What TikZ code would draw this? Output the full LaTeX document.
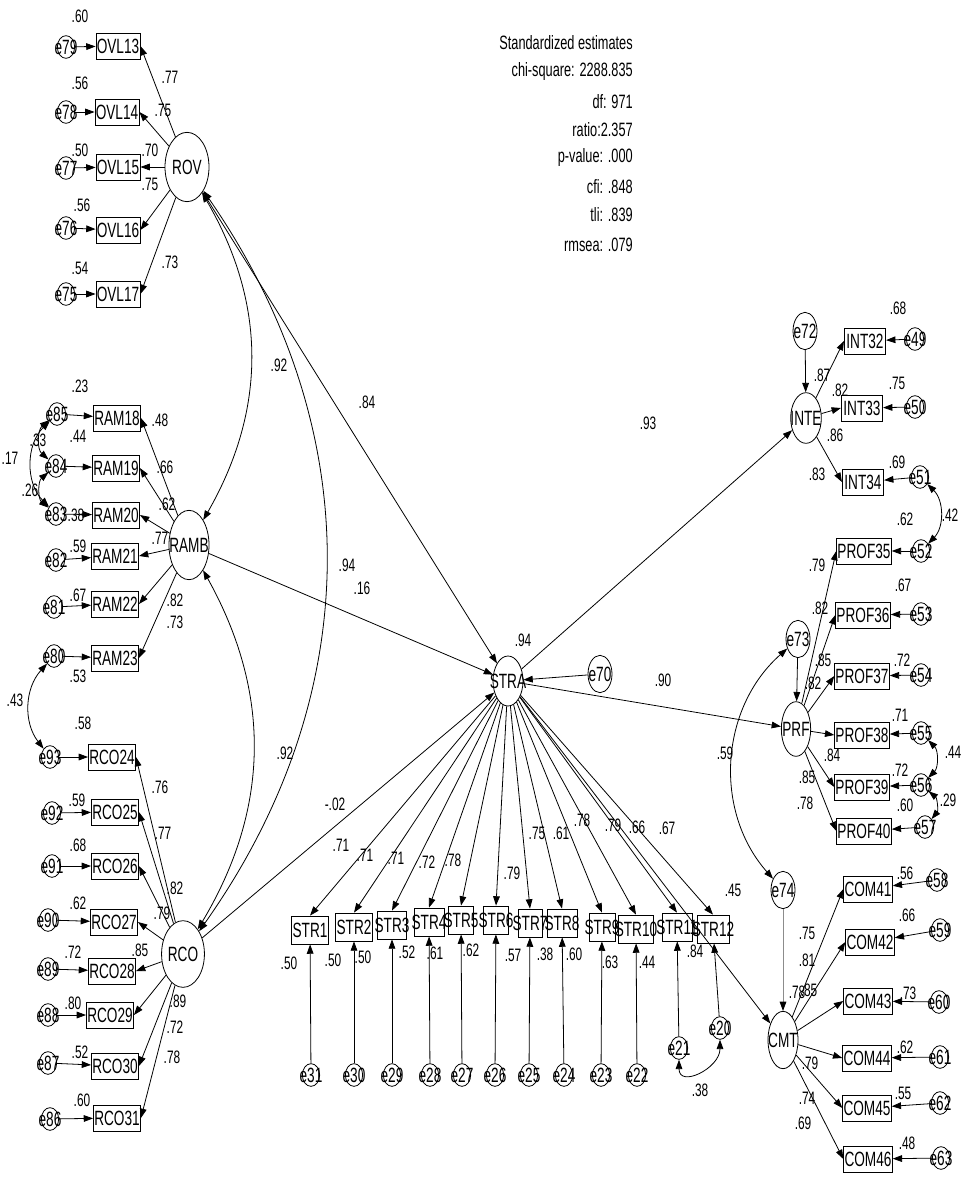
\documentclass[tikz,border=0pt]{standalone}
\usepackage{fontspec}
\setmainfont[FakeStretch=0.66]{Liberation Sans}
\usetikzlibrary{shapes.geometric, arrows.meta}
\newcommand{\ctxt}[1]{\makebox[0pt]{#1}}
\tikzset{
	latent/.style={ellipse, draw=black, line width=0.6pt, inner sep=0pt, font=\fontsize{15.5}{15.5}\selectfont},
	obsbox/.style={rectangle, draw=black, line width=0.6pt, inner xsep=0.6pt, inner ysep=0pt,
		minimum width=31pt, minimum height=19.5pt, font=\fontsize{15.5}{15.5}\selectfont},
	strbox/.style={obsbox, minimum width=#1, minimum height=21pt},
	errnode/.style={ellipse, draw=black, line width=0.6pt, inner sep=0pt,
		minimum width=13pt, minimum height=17pt, font=\fontsize{15.5}{15.5}\selectfont},
	bigerr/.style={errnode, minimum width=18pt, minimum height=28pt},
	est/.style={inner sep=0pt, font=\fontsize{13.5}{13.5}\selectfont},
	fitline/.style={inner sep=0pt, anchor=east, font=\fontsize{14.5}{14.5}\selectfont},
	arrow/.style={-{Triangle[length=7pt,width=5pt]}, line width=0.6pt},
	covarrow/.style={{Triangle[length=7pt,width=5pt]}-{Triangle[length=7pt,width=5pt]}, line width=0.6pt},
}
\begin{document}
\begin{tikzpicture}[x=0.75pt,y=0.75pt]
\useasboundingbox (0,0) rectangle (962,-1177);
% fit summary
\node[fitline](fhead) at (633,-43){Standardized estimates};
\node[fitline](fchi) at (633,-72){chi-square: 2288.835};
\node[fitline](fdf) at (633,-102){df: 971};
\node[fitline](fratio) at (633,-130){ratio:2.357};
\node[fitline](fpval) at (633,-158){p-value: .000};
\node[fitline](fcfi) at (633,-187){cfi: .848};
\node[fitline](ftli) at (633,-215){tli: .839};
\node[fitline](frmsea) at (633,-245){rmsea: .079};
% ROV block
\node[latent, minimum width=33pt, minimum height=52pt](rov) at (187,-167){ROV};
\node[obsbox](ovl13) at (118,-46){OVL13};\node[errnode](e79) at (66,-47){\ctxt{e79}};
\node[obsbox](ovl14) at (117,-112){OVL14};\node[errnode](e78) at (66,-112){\ctxt{e78}};
\node[obsbox](ovl15) at (118,-167){OVL15};\node[errnode](e77) at (66,-168){\ctxt{e77}};
\node[obsbox](ovl16) at (118,-230){OVL16};\node[errnode](e76) at (66,-228){\ctxt{e76}};
\node[obsbox](ovl17) at (118,-294){OVL17};\node[errnode](e75) at (66,-294){\ctxt{e75}};
\draw[arrow](e79)--(ovl13);\draw[arrow](e78)--(ovl14);\draw[arrow](e77)--(ovl15);
\draw[arrow](e76)--(ovl16);\draw[arrow](e75)--(ovl17);
\draw[arrow](rov)--(ovl13.east);\draw[arrow](rov)--(ovl14.east);\draw[arrow](rov)--(ovl15.east);
\draw[arrow](rov)--(ovl16.east);\draw[arrow](rov)--(ovl17.east);
\node[est](r79) at (80,-16){.60};\node[est](r78) at (80,-83){.56};\node[est](r77) at (80,-150){.50};
\node[est](r76) at (82,-205){.56};\node[est](r75) at (80,-268){.54};
\node[est](lovl13) at (170,-77){.77};\node[est](lovl14) at (163,-110){.75};\node[est](lovl15) at (150,-150){.70};
\node[est](lovl16) at (150,-184){.75};\node[est](lovl17) at (170,-262){.73};
% RAMB block
\node[latent, minimum width=30pt, minimum height=52pt](ramb) at (189,-545){\ctxt{RAMB}};
\node[obsbox](ram18) at (117,-418){RAM18};\node[errnode](e85) at (57,-414){\ctxt{e85}};
\node[obsbox](ram19) at (116,-468){RAM19};\node[errnode](e84) at (56,-466){\ctxt{e84}};
\node[obsbox](ram20) at (116,-515){RAM20};\node[errnode](e83) at (56,-514){\ctxt{e83}};
\node[obsbox](ram21) at (115,-556){RAM21};\node[errnode](e82) at (56,-560){\ctxt{e82}};
\node[obsbox](ram22) at (115,-604){RAM22};\node[errnode](e81) at (54,-607){\ctxt{e81}};
\node[obsbox](ram23) at (115,-658){RAM23};\node[errnode](e80) at (54,-656){\ctxt{e80}};
\draw[arrow](e85)--(ram18);\draw[arrow](e84)--(ram19);\draw[arrow](e83)--(ram20);
\draw[arrow](e82)--(ram21);\draw[arrow](e81)--(ram22);\draw[arrow](e80)--(ram23);
\draw[arrow](ramb)--(ram18.east);\draw[arrow](ramb)--(ram19.east);\draw[arrow](ramb)--(ram20.east);
\draw[arrow](ramb)--(ram21.east);\draw[arrow](ramb)--(ram22.east);\draw[arrow](ramb)--(ram23.east);
\node[est](r85) at (80,-386){.23};\node[est](r84) at (78,-436){.44};\node[est](r83) at (76,-515){.38};
\node[est](r82) at (78,-546){.59};\node[est](r81) at (78,-595){.67};\node[est](r80) at (78,-676){.53};
\node[est](lram18) at (160,-420){.48};\node[est](lram19) at (165,-467){.66};\node[est](lram20) at (167,-504){.62};
\node[est](lram21) at (160,-538){.77};\node[est](lram22) at (175,-600){.82};\node[est](lram23) at (175,-622){.73};
\draw[covarrow](e85) to[bend right=50] (e84);\draw[covarrow](e84) to[bend right=50] (e83);
\draw[covarrow](e85) to[bend right=45] (e83);
\node[est](c8584) at (38,-440){.33};\node[est](c8483) at (30,-490){.26};\node[est](c8583) at (10,-458){.17};
% RCO block
\node[latent, minimum width=31.5pt, minimum height=50pt](rco) at (183,-954){RCO};
\node[obsbox](rco24) at (112,-757){RCO24};\node[errnode](e93) at (50,-757){\ctxt{e93}};
\node[obsbox](rco25) at (115,-812){RCO25};\node[errnode](e92) at (52,-813){\ctxt{e92}};
\node[obsbox](rco26) at (115,-866){RCO26};\node[errnode](e91) at (52,-866){\ctxt{e91}};
\node[obsbox](rco27) at (114,-922){RCO27};\node[errnode](e90) at (48,-920){\ctxt{e90}};
\node[obsbox](rco28) at (112,-971){RCO28};\node[errnode](e89) at (48,-969){\ctxt{e89}};
\node[obsbox](rco29) at (110,-1015){RCO29};\node[errnode](e88) at (48,-1015){\ctxt{e88}};
\node[obsbox](rco30) at (115,-1066){RCO30};\node[errnode](e87) at (48,-1063){\ctxt{e87}};
\node[obsbox](rco31) at (117,-1118){RCO31};\node[errnode](e86) at (50,-1119){\ctxt{e86}};
\draw[arrow](e93)--(rco24);\draw[arrow](e92)--(rco25);\draw[arrow](e91)--(rco26);\draw[arrow](e90)--(rco27);
\draw[arrow](e89)--(rco28);\draw[arrow](e88)--(rco29);\draw[arrow](e87)--(rco30);\draw[arrow](e86)--(rco31);
\draw[arrow](rco)--(rco24.east);\draw[arrow](rco)--(rco25.east);\draw[arrow](rco)--(rco26.east);
\draw[arrow](rco)--(rco27.east);\draw[arrow](rco)--(rco28.east);\draw[arrow](rco)--(rco29.east);
\draw[arrow](rco)--(rco30.east);\draw[arrow](rco)--(rco31.east);
\node[est](r93) at (83,-723){.58};\node[est](r92) at (77,-800){.59};\node[est](r91) at (78,-845){.68};
\node[est](r90) at (78,-903){.62};\node[est](r89) at (73,-952){.72};\node[est](r88) at (73,-1003){.80};
\node[est](r87) at (80,-1052){.52};\node[est](r86) at (82,-1100){.60};
\node[est](lrco24) at (160,-787){.76};\node[est](lrco25) at (163,-833){.77};\node[est](lrco26) at (175,-888){.82};
\node[est](lrco27) at (162,-913){.79};\node[est](lrco28) at (140,-950){.85};\node[est](lrco29) at (178,-1001){.89};
\node[est](lrco30) at (175,-1027){.72};\node[est](lrco31) at (172,-1057){.78};
\draw[covarrow](e80) to[bend right=40] (e93);\node[est](c8093) at (15,-700){.43};
% factor covariances
\draw[covarrow](rov) to[bend left=30] (ramb);\draw[covarrow](rov) to[bend left=35] (rco);
\draw[covarrow](ramb) to[bend left=30] (rco);
\node[est](crovramb) at (279,-365){.92};\node[est](crovrco) at (347,-565){.94};\node[est](crambrco) at (285,-753){.92};
% STRA and its items
\node[latent, minimum width=22.5pt, minimum height=37.5pt](stra) at (508,-681){\ctxt{STRA}};
\node[bigerr](e70) at (600,-674){\ctxt{e70}};\draw[arrow](e70)--(stra);
\node[est](rstra) at (523,-640){.94};
\draw[arrow](rov)--(stra);\draw[arrow](ramb)--(stra);\draw[arrow](rco)--(stra);
\node[est](lrov) at (367,-402){.84};\node[est](lramb) at (362,-588){.16};\node[est](lrco) at (335,-804){-.02};
\node[strbox=27.75pt](str1) at (310,-930){\ctxt{STR1}};\node[strbox=27.75pt](str2) at (354,-927){\ctxt{STR2}};
\node[strbox=22pt](str3) at (392,-925){\ctxt{STR3}};\node[strbox=22.5pt](str4) at (429,-922){\ctxt{STR4}};
\node[strbox=19pt](str5) at (461,-920){\ctxt{STR5}};\node[strbox=19pt](str6) at (496,-920){\ctxt{STR6}};
\node[strbox=18pt](str7) at (530,-923){\ctxt{STR7}};\node[strbox=22.5pt](str8) at (562,-923){\ctxt{STR8}};
\node[strbox=19.5pt](str9) at (602,-927){\ctxt{STR9}};\node[strbox=26pt](str10) at (636,-929){\ctxt{STR10}};
\node[strbox=22.5pt](str11) at (677,-927){\ctxt{STR11}};\node[strbox=24pt](str12) at (713,-929){\ctxt{STR12}};
\draw[arrow](stra)--(str1.north);\draw[arrow](stra)--(str2.north);\draw[arrow](stra)--(str3.north);
\draw[arrow](stra)--(str4.north);\draw[arrow](stra)--(str5.north);\draw[arrow](stra)--(str6.north);
\draw[arrow](stra)--(str7.north);\draw[arrow](stra)--(str8.north);\draw[arrow](stra)--(str9.north);
\draw[arrow](stra)--(str10.north);\draw[arrow](stra)--(str11.north);\draw[arrow](stra)--(str12.north);
\node[errnode](e31) at (311,-1075){\ctxt{e31}};\node[errnode](e30) at (354,-1075){\ctxt{e30}};
\node[errnode](e29) at (392,-1075){\ctxt{e29}};\node[errnode](e28) at (430,-1075){\ctxt{e28}};
\node[errnode](e27) at (462,-1075){\ctxt{e27}};\node[errnode](e26) at (495,-1075){\ctxt{e26}};
\node[errnode](e25) at (529,-1075){\ctxt{e25}};\node[errnode](e24) at (564,-1075){\ctxt{e24}};
\node[errnode](e23) at (601,-1075){\ctxt{e23}};\node[errnode](e22) at (637,-1075){\ctxt{e22}};
\node[errnode](e21) at (679,-1048){\ctxt{e21}};\node[errnode](e20) at (720,-1028){\ctxt{e20}};
\draw[arrow](e31)--(str1);\draw[arrow](e30)--(str2);\draw[arrow](e29)--(str3);\draw[arrow](e28)--(str4);
\draw[arrow](e27)--(str5);\draw[arrow](e26)--(str6);\draw[arrow](e25)--(str7);\draw[arrow](e24)--(str8);
\draw[arrow](e23)--(str9);\draw[arrow](e22)--(str10);\draw[arrow](e21)--(str11);\draw[arrow](e20)--(str12);
\draw[covarrow](e21) to[out=-90,in=-90,looseness=1.6] (e20);\node[est](c2120) at (700,-1090){.38};
\node[est](lstr1) at (341,-845){.71};\node[est](lstr2) at (365,-855){.71};\node[est](lstr3) at (396,-858){.71};
\node[est](lstr4) at (427,-862){.72};\node[est](lstr5) at (453,-860){.78};\node[est](lstr6) at (512,-873){.79};
\node[est](lstr7) at (537,-833){.75};\node[est](lstr8) at (561,-833){.61};\node[est](lstr9) at (582,-820){.78};
\node[est](lstr10) at (613,-825){.79};\node[est](lstr11) at (637,-827){.66};\node[est](lstr12) at (667,-828){.67};
\node[est](rstr1) at (289,-963){.50};\node[est](rstr2) at (333,-960){.50};\node[est](rstr2b) at (363,-957){.50};
\node[est](rstr3) at (407,-952){.52};\node[est](rstr4) at (435,-953){.61};\node[est](rstr5) at (471,-950){.62};
\node[est](rstr6) at (513,-955){.57};\node[est](rstr7) at (545,-954){.38};\node[est](rstr8) at (574,-954){.60};
\node[est](rstr9) at (610,-962){.63};\node[est](rstr10) at (647,-962){.44};\node[est](rstr11) at (695,-951){.84};
\node[est](rstr12) at (733,-890){.45};
% INTE block
\node[latent, minimum width=23pt, minimum height=38pt](inte) at (806,-418){\ctxt{INTE}};
\node[bigerr](e72) at (805,-331){\ctxt{e72}};\draw[arrow](e72)--(inte);
\node[obsbox](int32) at (865,-341){INT32};\node[errnode](e49) at (915,-339){\ctxt{e49}};
\node[obsbox](int33) at (862,-408){INT33};\node[errnode](e50) at (915,-407){\ctxt{e50}};
\node[obsbox](int34) at (863,-482){INT34};\node[errnode](e51) at (920,-477){\ctxt{e51}};
\draw[arrow](e49)--(int32);\draw[arrow](e50)--(int33);\draw[arrow](e51)--(int34);
\draw[arrow](inte)--(int32.west);\draw[arrow](inte)--(int33.west);\draw[arrow](inte)--(int34.west);
\node[est](r49) at (898,-308){.68};\node[est](r50) at (897,-383){.75};\node[est](r51) at (897,-462){.69};
\node[est](lint32) at (822,-375){.87};\node[est](lint33) at (840,-390){.82};
\node[est](lint34) at (835,-435){.86};\node[est](rinte) at (817,-474){.83};
\draw[arrow](stra)--(inte);\node[est](linte) at (648,-423){.93};
% PRF block
\node[latent, minimum width=22pt, minimum height=41pt](prf) at (796,-729){\ctxt{PRF}};
\node[bigerr](e73) at (798,-639){\ctxt{e73}};\draw[arrow](e73)--(prf);
\node[obsbox](prof35) at (864,-551){PROF35};\node[errnode](e52) at (921,-551){\ctxt{e52}};
\node[obsbox](prof36) at (863,-615){PROF36};\node[errnode](e53) at (921,-614){\ctxt{e53}};
\node[obsbox](prof37) at (862,-676){PROF37};\node[errnode](e54) at (921,-675){\ctxt{e54}};
\node[obsbox](prof38) at (862,-735){PROF38};\node[errnode](e55) at (921,-733){\ctxt{e55}};
\node[obsbox](prof39) at (862,-787){PROF39};\node[errnode](e56) at (921,-785){\ctxt{e56}};
\node[obsbox](prof40) at (864,-831){PROF40};\node[errnode](e57) at (925,-827){\ctxt{e57}};
\draw[arrow](e52)--(prof35);\draw[arrow](e53)--(prof36);\draw[arrow](e54)--(prof37);
\draw[arrow](e55)--(prof38);\draw[arrow](e56)--(prof39);\draw[arrow](e57)--(prof40);
\draw[arrow](prf)--(prof35.west);\draw[arrow](prf)--(prof36.west);\draw[arrow](prf)--(prof37.west);
\draw[arrow](prf)--(prof38.west);\draw[arrow](prf)--(prof39.west);\draw[arrow](prf)--(prof40.west);
\node[est](r52) at (905,-519){.62};\node[est](r53) at (903,-585){.67};\node[est](r54) at (902,-660){.72};
\node[est](r55) at (900,-715){.71};\node[est](r56) at (900,-770){.72};\node[est](r57) at (905,-805){.60};
\node[est](lprof35) at (817,-565){.79};\node[est](lprof36) at (820,-608){.82};\node[est](lprof37) at (823,-660){.85};
\node[est](rprf) at (813,-683){.82};\node[est](lprof38) at (832,-755){.84};\node[est](lprof39) at (807,-777){.85};
\node[est](lprof40) at (805,-803){.78};
\draw[covarrow](e51) to[bend left=45] (e52);\node[est](c5152) at (950,-515){.42};
\draw[covarrow](e55) to[bend left=45] (e56);\node[est](c5556) at (953,-752){.44};
\draw[covarrow](e56) to[bend left=45] (e57);\node[est](c5657) at (948,-800){.29};
\draw[arrow](stra)--(prf);\node[est](lprf) at (663,-680){.90};
% CMT block
\node[latent, minimum width=22.5pt, minimum height=43pt](cmt) at (783,-1040){\ctxt{CMT}};
\node[bigerr](e74) at (783,-890){\ctxt{e74}};
\draw[-{Triangle[length=7pt,width=5pt,color=black]}, line width=0.6pt, draw=black!45](e74)--(cmt);
\draw[covarrow](e73) to[bend right=45] (e74);\node[est](c7374) at (725,-753){.59};
\node[obsbox](com41) at (868,-889){COM41};\node[errnode](e58) at (937,-880){\ctxt{e58}};
\node[obsbox](com42) at (870,-942){COM42};\node[errnode](e59) at (940,-930){\ctxt{e59}};
\node[obsbox](com43) at (868,-1001){COM43};\node[errnode](e60) at (939,-1002){\ctxt{e60}};
\node[obsbox](com44) at (867,-1058){COM44};\node[errnode](e61) at (940,-1057){\ctxt{e61}};
\node[obsbox](com45) at (867,-1108){COM45};\node[errnode](e62) at (940,-1103){\ctxt{e62}};
\node[obsbox](com46) at (868,-1159){COM46};\node[errnode](e63) at (941,-1158){\ctxt{e63}};
\draw[arrow](e58)--(com41);\draw[arrow](e59)--(com42);\draw[arrow](e60)--(com43);
\draw[arrow](e61)--(com44);\draw[arrow](e62)--(com45);\draw[arrow](e63)--(com46);
\draw[arrow](cmt)--(com41.west);\draw[arrow](cmt)--(com42.west);\draw[arrow](cmt)--(com43.west);
\draw[arrow](cmt)--(com44.west);\draw[arrow](cmt)--(com45.west);\draw[arrow](cmt)--(com46.west);
\node[est](r58) at (905,-873){.56};\node[est](r59) at (907,-915){.66};\node[est](r60) at (908,-993){.73};
\node[est](r61) at (905,-1047){.62};\node[est](r62) at (903,-1093){.55};\node[est](r63) at (907,-1143){.48};
\node[est](lcom41) at (807,-933){.75};\node[est](lcom42) at (807,-960){.81};\node[est](rcmt) at (797,-992){.78};
\node[est](lcom43) at (809,-990){.85};\node[est](lcom44) at (810,-1063){.79};\node[est](lcom45) at (807,-1098){.74};
\node[est](lcom46) at (803,-1123){.69};
\draw[arrow](stra)--(cmt);
\end{tikzpicture}
\end{document}
